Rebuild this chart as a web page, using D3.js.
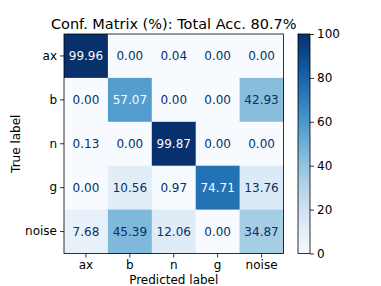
<!DOCTYPE html>
<html>
<head>
<meta charset="utf-8">
<script src="https://cdn.jsdelivr.net/npm/d3@7"></script>
<style>
  body { margin: 0; background: #fff; }
  text { font-family: "DejaVu Sans", sans-serif; }
</style>
</head>
<body>
<div class="chart"></div>
<script>
var labels = ["ax", "b", "n", "g", "noise"];

// rows = true label, cols = predicted label
var rowAx    = [99.96, 0.00, 0.04, 0.00, 0.00];
var rowB     = [0.00, 57.07, 0.00, 0.00, 42.93];
var rowN     = [0.13, 0.00, 99.87, 0.00, 0.00];
var rowG     = [0.00, 10.56, 0.97, 74.71, 13.76];
var rowNoise = [7.68, 45.39, 12.06, 0.00, 34.87];

var barTicks = [0, 20, 40, 60, 80, 100];

var title = "Conf. Matrix (%): Total Acc. 80.7%";

var rows = [rowAx, rowB, rowN, rowG, rowNoise];

var svg = d3.select(".chart").append("svg").attr("width", 381).attr("height", 286);

var mLeft = 64, mTop = 34, size = 219.5;

var x = d3.scaleBand().domain(labels).range([mLeft, mLeft + size]);
var y = d3.scaleBand().domain(labels).range([mTop, mTop + size]);
var color = d3.scaleSequential(d3.interpolateBlues).domain([0, 100]);

var cells = [];
rows.forEach(function(r, i) {
	r.forEach(function(v, j) {
		cells.push({ t: labels[i], p: labels[j], v: v });
	});
});

svg.selectAll(".cell")
	.data(cells)
	.enter().append("rect")
	.attr("class", "cell")
	.attr("x", function(d) { return x(d.p); })
	.attr("y", function(d) { return y(d.t); })
	.attr("width", x.bandwidth() + 0.5)
	.attr("height", y.bandwidth() + 0.5)
	.attr("fill", function(d) { return color(d.v); });

svg.selectAll(".val")
	.data(cells)
	.enter().append("text")
	.attr("class", "val")
	.attr("x", function(d) { return x(d.p) + x.bandwidth() / 2; })
	.attr("y", function(d) { return y(d.t) + y.bandwidth() / 2; })
	.attr("dy", "0.36em")
	.attr("text-anchor", "middle")
	.style("font-size", "12px")
	.attr("fill", function(d) { return d.v > 50 ? "#f7fbff" : "#08306b"; })
	.text(function(d) { return d.v.toFixed(2); });

svg.append("rect")
	.attr("x", mLeft).attr("y", mTop)
	.attr("width", size).attr("height", size)
	.attr("fill", "none").attr("stroke", "#000").attr("stroke-width", 0.8);

var xAxis = svg.append("g")
	.attr("transform", "translate(0," + (mTop + size) + ")")
	.call(d3.axisBottom(x).tickSize(4).tickPadding(3));
var yAxis = svg.append("g")
	.attr("transform", "translate(" + mLeft + ",0)")
	.call(d3.axisLeft(y).tickSize(4).tickPadding(3));
[xAxis, yAxis].forEach(function(a) {
	a.select(".domain").remove();
	a.selectAll("text").style("font-size", "12px").attr("fill", "#000").style("font-family", "DejaVu Sans");
	a.selectAll("line").attr("stroke", "#000").attr("stroke-width", 0.8);
});

svg.append("text")
	.attr("x", mLeft + size / 2).attr("y", 283.5)
	.attr("text-anchor", "middle")
	.style("font-size", "12px")
	.text("Predicted label");

svg.append("text")
	.attr("transform", "translate(19.5," + (mTop + size / 2) + ") rotate(-90)")
	.attr("text-anchor", "middle")
	.style("font-size", "12px")
	.text("True label");

svg.append("text")
	.attr("x", mLeft + size / 2).attr("y", 29)
	.attr("text-anchor", "middle")
	.style("font-size", "14.5px")
	.text(title);

// colorbar
var cbx = 298, cbw = 12;
var cy = d3.scaleLinear().domain([0, 100]).range([mTop + size, mTop]);
var defs = svg.append("defs");
var grad = defs.append("linearGradient").attr("id", "cbgrad")
	.attr("x1", 0).attr("y1", 1).attr("x2", 0).attr("y2", 0);
d3.range(0, 1.0001, 0.1).forEach(function(t) {
	grad.append("stop").attr("offset", t).attr("stop-color", d3.interpolateBlues(t));
});
svg.append("rect")
	.attr("x", cbx).attr("y", mTop)
	.attr("width", cbw).attr("height", size)
	.attr("fill", "url(#cbgrad)")
	.attr("stroke", "#000").attr("stroke-width", 0.8);

var cAxis = svg.append("g")
	.attr("transform", "translate(" + (cbx + cbw) + ",0)")
	.call(d3.axisRight(cy).tickValues(barTicks).tickSize(4).tickPadding(3));
cAxis.select(".domain").remove();
cAxis.selectAll("text").style("font-size", "12px").attr("fill", "#000").style("font-family", "DejaVu Sans");
cAxis.selectAll("line").attr("stroke", "#000").attr("stroke-width", 0.8);
</script>
</body>
</html>
